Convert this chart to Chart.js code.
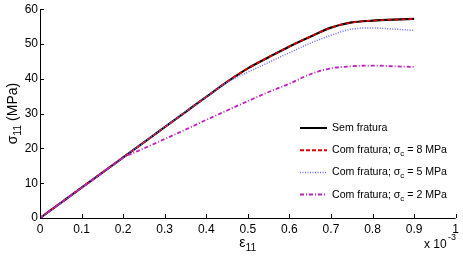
<!DOCTYPE html>
<html>
<head>
<meta charset="utf-8">
<script src="https://cdn.jsdelivr.net/npm/chart.js@4.4.0/dist/chart.umd.min.js"></script>
<style>
  body { margin: 0; background: #fff; }
  #wrap { width: 463px; height: 261px; }
</style>
</head>
<body>
<div id="wrap"><canvas id="chart"></canvas></div>
<script>
// deformacao (x 10^-3)
const strain = [0, 0.05, 0.1, 0.15, 0.2, 0.25, 0.3, 0.35, 0.4, 0.45, 0.5, 0.55, 0.6, 0.65, 0.7, 0.75, 0.8, 0.85, 0.9];
// tensao (MPa) de cada curva
const semFratura = [0, 4.35, 8.7, 13.05, 17.4, 21.75, 26.1, 30.45, 34.8, 39.1, 43.0, 46.2, 49.3, 52.1, 54.7, 56.2, 56.7, 57.0, 57.2];
const sigma8 = [0, 4.35, 8.7, 13.05, 17.4, 21.75, 26.1, 30.45, 34.8, 39.1, 43.0, 46.2, 49.3, 52.1, 54.7, 56.2, 56.7, 57.0, 57.2];
const sigma5 = [0, 4.35, 8.7, 13.05, 17.4, 21.75, 26.1, 30.45, 34.8, 39.0, 41.9, 44.7, 47.5, 50.2, 52.5, 54.3, 54.6, 54.3, 53.9];
const sigma2 = [0, 4.35, 8.7, 13.05, 17.3, 20.0, 22.7, 25.4, 28.2, 30.9, 33.6, 36.2, 38.6, 41.3, 43.0, 43.6, 43.8, 43.6, 43.4];

const xTicks = [0, 0.1, 0.2, 0.3, 0.4, 0.5, 0.6, 0.7, 0.8, 0.9, 1];
const yTicks = [0, 10, 20, 30, 40, 50, 60];

const legendItems = [
  { label: 'Sem fratura', sub: null, color: '#000000', dash: [], width: 2 },
  { label: 'Com fratura; σ', sub: 'c', rest: ' = 8 MPa', color: '#e00000', dash: [4, 2], width: 2 },
  { label: 'Com fratura; σ', sub: 'c', rest: ' = 5 MPa', color: '#6b6bff', dash: [1, 1.5], width: 1.5 },
  { label: 'Com fratura; σ', sub: 'c', rest: ' = 2 MPa', color: '#c020c0', dash: [4, 2, 1, 2], width: 2 }
];

function toPoints(values) {
  return strain.map((x, i) => ({ x: x, y: values[i] }));
}

const FONT = '"Liberation Sans", Arial, sans-serif';

// desenha texto com subscrito, retorna largura
function drawSub(ctx, x, y, main, sub, rest, size, align) {
  ctx.font = size + 'px ' + FONT;
  const w1 = ctx.measureText(main).width;
  ctx.font = (size * 0.75) + 'px ' + FONT;
  const w2 = sub ? ctx.measureText(sub).width : 0;
  ctx.font = size + 'px ' + FONT;
  const w3 = rest ? ctx.measureText(rest).width : 0;
  const total = w1 + w2 + w3;
  let start = x;
  if (align === 'center') start = x - total / 2;
  ctx.textAlign = 'left';
  ctx.textBaseline = 'middle';
  ctx.fillText(main, start, y);
  if (sub) {
    ctx.font = (size * 0.75) + 'px ' + FONT;
    ctx.fillText(sub, start + w1, y + size * 0.35);
  }
  if (rest) {
    ctx.font = size + 'px ' + FONT;
    ctx.fillText(rest, start + w1 + w2, y);
  }
  return total;
}

const decorPlugin = {
  id: 'decor',
  afterDraw(chart) {
    const ctx = chart.ctx;
    const xs = chart.scales.x;
    const ys = chart.scales.y;
    const area = chart.chartArea;
    ctx.save();
    // eixos
    ctx.strokeStyle = '#000';
    ctx.lineWidth = 1;
    ctx.beginPath();
    ctx.moveTo(area.left + 0.5, area.top);
    ctx.lineTo(area.left + 0.5, area.bottom + 0.5);
    ctx.lineTo(area.right, area.bottom + 0.5);
    ctx.stroke();
    // ticks para dentro
    ctx.beginPath();
    xTicks.forEach(v => {
      const px = Math.round(xs.getPixelForValue(v)) + 0.5;
      ctx.moveTo(px, area.bottom);
      ctx.lineTo(px, area.bottom - 4);
    });
    yTicks.forEach(v => {
      const py = Math.round(ys.getPixelForValue(v)) + 0.5;
      ctx.moveTo(area.left, py);
      ctx.lineTo(area.left + 4, py);
    });
    ctx.stroke();

    ctx.fillStyle = '#000';
    // titulo eixo x
    drawSub(ctx, (area.left + area.right) / 2, 243, 'ε', '11', null, 14, 'center');
    // expoente
    ctx.font = '12px ' + FONT;
    ctx.textBaseline = 'middle';
    ctx.textAlign = 'left';
    ctx.fillText('x 10', 424, 245);
    ctx.font = '9px ' + FONT;
    ctx.fillText('-3', 448, 238);
    // titulo eixo y
    ctx.save();
    ctx.translate(13, (area.top + area.bottom) / 2);
    ctx.rotate(-Math.PI / 2);
    drawSub(ctx, 0, 0, 'σ', '11', ' (MPa)', 14, 'center');
    ctx.restore();

    // legenda
    legendItems.forEach((item, i) => {
      const y = 128 + i * 22.2;
      ctx.strokeStyle = item.color;
      ctx.lineWidth = item.width;
      ctx.setLineDash(item.dash);
      ctx.beginPath();
      ctx.moveTo(300, y);
      ctx.lineTo(327, y);
      ctx.stroke();
      ctx.setLineDash([]);
      ctx.fillStyle = '#000';
      drawSub(ctx, 332, y, item.label, item.sub, item.rest, 10.6, 'left');
    });
    ctx.restore();
  }
};

new Chart(document.getElementById('chart'), {
  type: 'line',
  data: {
    datasets: [
      { label: 'Sem fratura', data: toPoints(semFratura), borderColor: '#000000', borderWidth: 2.2, order: 4 },
      { label: 'sigma 8', data: toPoints(sigma8), borderColor: '#e00000', borderWidth: 1.8, borderDash: [4, 3], order: 3 },
      { label: 'sigma 5', data: toPoints(sigma5), borderColor: '#6b6bff', borderWidth: 1.5, borderDash: [1, 1.5], order: 2 },
      { label: 'sigma 2', data: toPoints(sigma2), borderColor: '#c020c0', borderWidth: 1.8, borderDash: [4, 2, 1, 2], order: 1 }
    ]
  },
  options: {
    responsive: true,
    maintainAspectRatio: false,
    animation: false,
    layout: { padding: { top: 8, right: 7, left: 0, bottom: 0 } },
    elements: {
      point: { radius: 0 },
      line: { cubicInterpolationMode: 'monotone', fill: false }
    },
    plugins: { legend: { display: false }, tooltip: { enabled: false } },
    scales: {
      x: {
        type: 'linear',
        min: 0,
        max: 1,
        afterFit: (scale) => { scale.height = 43; },
        afterBuildTicks: (scale) => { scale.ticks = xTicks.map(v => ({ value: v })); },
        grid: { display: false, drawTicks: false },
        border: { display: false },
        ticks: {
          color: '#000',
          font: { family: FONT, size: 12 },
          padding: 4,
          maxRotation: 0,
          autoSkip: false,
          callback: (v) => String(v)
        }
      },
      y: {
        min: 0,
        max: 60,
        afterFit: (scale) => { scale.width = 40; },
        afterBuildTicks: (scale) => { scale.ticks = yTicks.map(v => ({ value: v })); },
        grid: { display: false, drawTicks: false },
        border: { display: false },
        ticks: {
          color: '#000',
          font: { family: FONT, size: 12 },
          padding: 2,
          callback: (v) => String(v)
        }
      }
    }
  },
  plugins: [decorPlugin]
});
</script>
</body>
</html>
